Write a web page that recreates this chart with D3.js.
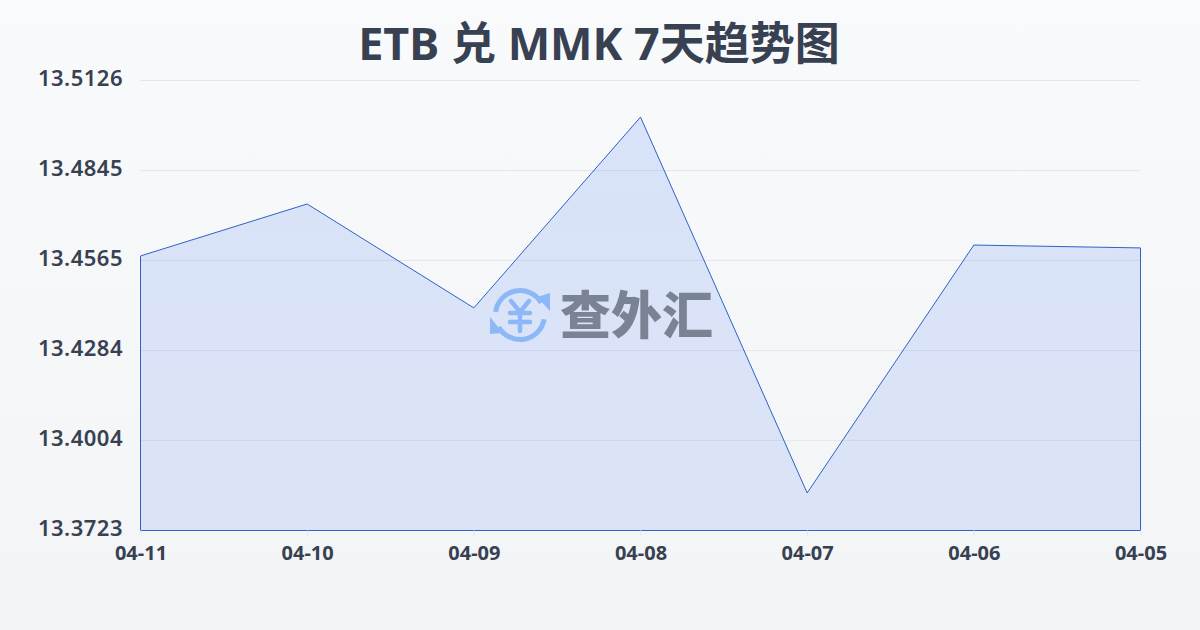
<!DOCTYPE html>
<html><head><meta charset="utf-8">
<script src="https://cdn.jsdelivr.net/npm/d3@7/dist/d3.min.js"></script>
<style>html,body{margin:0;padding:0;width:1200px;height:630px;overflow:hidden}svg{display:block}
text{font-family:"Noto Sans","Noto Sans CJK SC",sans-serif}</style></head>
<body><svg id="c" width="1200" height="630"></svg>
<script>
const titleText = "ETB 兑 MMK 7天趋势图";
const dates = ["04-11","04-10","04-09","04-08","04-07","04-06","04-05"];
const rates = [13.4579,13.4741,13.4417,13.5012,13.3840,13.4613,13.4604];
const yTicks = [13.3723,13.4004,13.4284,13.4565,13.4845,13.5126];
const watermarkText = "查外汇";

const svg = d3.select("#c");
const defs = svg.append("defs");
const bg = defs.append("linearGradient").attr("id","bg").attr("x1",0).attr("y1",0).attr("x2",0).attr("y2",1);
bg.append("stop").attr("offset",0).attr("stop-color","#f9fafc");
bg.append("stop").attr("offset",1).attr("stop-color","#f3f4f6");
svg.append("rect").attr("width",1200).attr("height",630).attr("fill","url(#bg)");

const x = d3.scalePoint().domain(dates).range([140.5,1140.5]);
const y = d3.scaleLinear().domain([13.3723,13.5126]).range([530.5,80.5]);

svg.append("g").selectAll("line").data(yTicks.slice(1)).join("line")
  .attr("x1",140).attr("x2",1140).attr("y1",d=>y(d)).attr("y2",d=>y(d))
  .attr("stroke","#e4e6ea").attr("stroke-width",1);

const fillGrad = defs.append("linearGradient").attr("id","fa").attr("x1",0).attr("y1",0).attr("x2",0).attr("y2",1);
fillGrad.append("stop").attr("offset",0).attr("stop-color","#2563eb").attr("stop-opacity",0.15);
fillGrad.append("stop").attr("offset",1).attr("stop-color","#2563eb").attr("stop-opacity",0.12);
const area = d3.area().x((d,i)=>x(dates[i])).y0(y(13.3723)).y1(d=>y(d));
svg.append("path").datum(rates).attr("d",area).attr("fill","url(#fa)");
svg.append("path").datum(rates).attr("d",area)
  .attr("fill","none").attr("stroke","#2f62c4").attr("stroke-width",1);

const xAxis = d3.axisBottom(x).tickSize(5).tickPadding(5);
const gx = svg.append("g").attr("transform",`translate(0,${y(13.3723)})`).call(xAxis);
gx.select(".domain").remove();
gx.selectAll("line").attr("stroke","#e4e6ea");
gx.selectAll("text").attr("fill","#374151").attr("font-size",20).attr("font-weight",700)
  .attr("dy","0.98em").style("font-family",'"Noto Sans",sans-serif');

svg.append("g").selectAll("text").data(yTicks).join("text")
  .attr("x",123).attr("y",d=>y(d)-2.5).attr("dy","0.36em").attr("text-anchor","end")
  .attr("fill","#374151").attr("font-size",22).attr("font-weight",600).attr("letter-spacing",0.5)
  .text(d=>d.toFixed(4));

svg.append("text").attr("x",599).attr("y",60).attr("text-anchor","middle")
  .attr("font-size",45).attr("font-weight",700).attr("fill","#374151")
  .style("font-family",'"Noto Sans","Noto Sans CJK SC",sans-serif').text(titleText);

const wm = svg.append("g");
const ic = wm.append("g").attr("transform","translate(520,315)")
  .attr("fill","none").attr("stroke","#8db8f8").attr("stroke-linecap","round");
ic.append("path").attr("d",d3.arc()({innerRadius:24.5,outerRadius:24.5,startAngle:-1.45,endAngle:1.05})).attr("stroke-width",5);
ic.append("path").attr("d",d3.arc()({innerRadius:24.5,outerRadius:24.5,startAngle:1.75,endAngle:4.2})).attr("stroke-width",5);
ic.append("path").attr("d","M17,-18L30,-4L30,-22Z").attr("fill","#8db8f8").attr("stroke","none");
ic.append("path").attr("d","M-30,2L-30,19L-17,18Z").attr("fill","#8db8f8").attr("stroke","none");
ic.append("path").attr("d","M-9,-14L0,-3L9,-14M-10,-2H10M-10,7H10M0,-3V16").attr("stroke-width",4.5);
wm.append("text").attr("x",560).attr("y",334).attr("font-size",51).attr("font-weight",900)
  .attr("fill","#7a8394").style("font-family",'"Noto Sans CJK SC",sans-serif').text(watermarkText);
</script></body></html>
